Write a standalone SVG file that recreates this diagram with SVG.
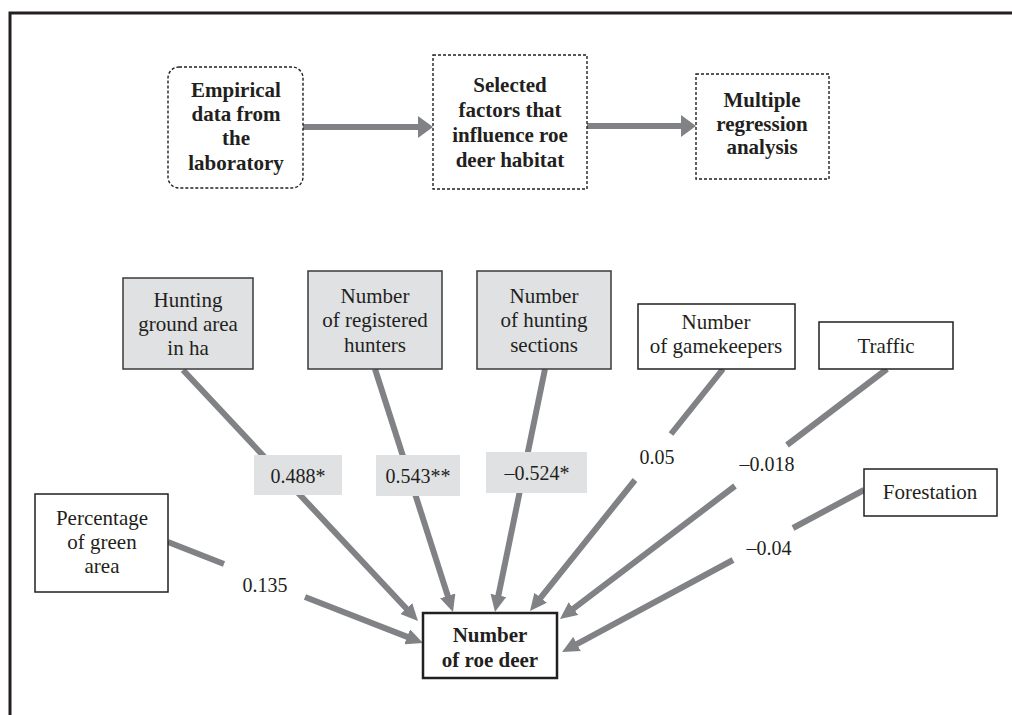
<svg xmlns="http://www.w3.org/2000/svg" width="1012" height="715" viewBox="0 0 1012 715">
<style>
  .frame { fill: none; stroke: #231f20; stroke-width: 3; }
  .dot { fill: #ffffff; stroke: #231f20; stroke-width: 1.4; stroke-dasharray: 3 2; }
  .gbox { fill: #e0e1e3; stroke: #3a3a3a; stroke-width: 1.5; }
  .wbox { fill: #ffffff; stroke: #231f20; stroke-width: 1.5; }
  .tbox { fill: #ffffff; stroke: #231f20; stroke-width: 2.5; }
  .lbl { fill: #e0e1e3; stroke: none; }
  .t { font-family: "Liberation Serif", "Times New Roman", serif; font-size: 21px; fill: #231f20; text-anchor: middle; }
  .b { font-weight: bold; }
  .n { font-size: 20px; }
  .ln { fill: none; stroke: #808285; stroke-width: 6; }
</style>
<defs>
  <marker id="ah" viewBox="0 0 17 16" markerWidth="17" markerHeight="16" markerUnits="userSpaceOnUse" refX="5" refY="8" orient="auto">
    <path d="M0,0 L17,8 L0,16 z" fill="#808285"/>
  </marker>
  <marker id="ahTop" viewBox="0 0 15 22" markerWidth="15" markerHeight="22" markerUnits="userSpaceOnUse" refX="3" refY="11" orient="auto">
    <path d="M0,0 L15,11 L0,22 z" fill="#808285"/>
  </marker>
</defs>
<rect width="1012" height="715" fill="#ffffff"/>
<path class="frame" d="M10,716 L10,13 L1013,13"/>

<g id="connectors">
  <line class="ln" x1="303" y1="127" x2="421" y2="127" marker-end="url(#ahTop)"/>
  <line class="ln" x1="587" y1="126" x2="684" y2="126" marker-end="url(#ahTop)"/>
  <path class="ln" d="M168,542 L224,564 M305,597 L411.8,638.6" marker-end="url(#ah)"/>
  <path class="ln" d="M183,370 L409.8,612.2" marker-end="url(#ah)"/>
  <path class="ln" d="M375,369 L449.3,600.6" marker-end="url(#ah)"/>
  <path class="ln" d="M545,369 L497.4,600.3" marker-end="url(#ah)"/>
  <path class="ln" d="M723,369 L671,434 M635,480 L537.5,601.6" marker-end="url(#ah)"/>
  <path class="ln" d="M887,369 L787,445 M735,486 L569.5,611.7" marker-end="url(#ah)"/>
  <path class="ln" d="M864,490 L793,528 M733,560 L572.6,646.3" marker-end="url(#ah)"/>
  <g id="labels">
    <rect class="lbl" x="254" y="455" width="88" height="40"/>
    <text class="t n" x="298" y="483">0.488*</text>
    <rect class="lbl" x="376" y="455" width="84" height="41"/>
    <text class="t n" x="418" y="483">0.543**</text>
    <rect class="lbl" x="486" y="452" width="101" height="41"/>
    <text class="t n" x="537" y="480">–0.524*</text>
    <text class="t n" x="265" y="592">0.135</text>
    <text class="t n" x="657" y="464">0.05</text>
    <text class="t n" x="767" y="471">–0.018</text>
    <text class="t n" x="769" y="555">–0.04</text>
  </g>
</g>

<g id="node-empirical">
  <rect class="dot" x="168" y="67" width="135" height="121" rx="11"/>
  <text class="t b" x="236" y="97">Empirical</text>
  <text class="t b" x="236" y="121">data from</text>
  <text class="t b" x="236" y="145">the</text>
  <text class="t b" x="236" y="170">laboratory</text>
</g>
<g id="node-selected">
  <rect class="dot" x="433" y="55" width="154" height="134"/>
  <text class="t b" x="510" y="92">Selected</text>
  <text class="t b" x="510" y="117">factors that</text>
  <text class="t b" x="510" y="142">influence roe</text>
  <text class="t b" x="510" y="167">deer habitat</text>
</g>
<g id="node-regression">
  <rect class="dot" x="696" y="74" width="133" height="105"/>
  <text class="t b" x="762" y="107">Multiple</text>
  <text class="t b" x="762" y="131">regression</text>
  <text class="t b" x="762" y="154">analysis</text>
</g>

<g id="node-hunting-ground">
  <rect class="gbox" x="123" y="278" width="130" height="91"/>
  <text class="t" x="188" y="307">Hunting</text>
  <text class="t" x="188" y="331">ground area</text>
  <text class="t" x="188" y="355">in ha</text>
</g>
<g id="node-hunters">
  <rect class="gbox" x="308" y="271" width="134" height="98"/>
  <text class="t" x="375" y="303">Number</text>
  <text class="t" x="375" y="327">of registered</text>
  <text class="t" x="375" y="352">hunters</text>
</g>
<g id="node-sections">
  <rect class="gbox" x="477" y="271" width="134" height="98"/>
  <text class="t" x="544" y="303">Number</text>
  <text class="t" x="544" y="327">of hunting</text>
  <text class="t" x="544" y="352">sections</text>
</g>
<g id="node-gamekeepers">
  <rect class="wbox" x="638" y="304" width="157" height="65"/>
  <text class="t" x="716" y="329">Number</text>
  <text class="t" x="716" y="353">of gamekeepers</text>
</g>
<g id="node-traffic">
  <rect class="wbox" x="819" y="322" width="134" height="47"/>
  <text class="t" x="886" y="353">Traffic</text>
</g>
<g id="node-forestation">
  <rect class="wbox" x="864" y="469" width="133" height="47"/>
  <text class="t" x="930" y="499">Forestation</text>
</g>
<g id="node-green">
  <rect class="wbox" x="35" y="494" width="133" height="98"/>
  <text class="t" x="102" y="525">Percentage</text>
  <text class="t" x="102" y="549">of green</text>
  <text class="t" x="102" y="573">area</text>
</g>
<g id="node-roe-deer">
  <rect class="tbox" x="423" y="613" width="134" height="65"/>
  <text class="t b" x="490" y="642">Number</text>
  <text class="t b" x="490" y="667">of roe deer</text>
</g>
</svg>
